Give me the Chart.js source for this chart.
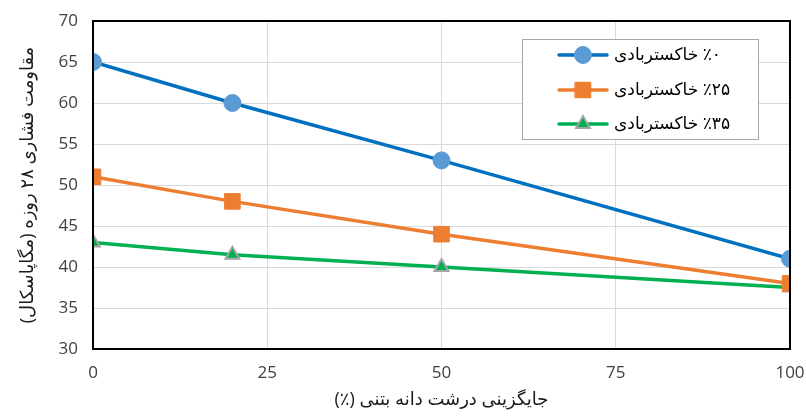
<!DOCTYPE html>
<html>
<head>
<meta charset="utf-8">
<script src="https://cdn.jsdelivr.net/npm/chart.js@4/dist/chart.umd.min.js"></script>
<style>
  html, body { margin: 0; padding: 0; background: #fff; }
  #wrap { width: 806px; height: 416px; }
</style>
</head>
<body>
<div id="wrap"><canvas id="grafico"></canvas></div>
<script>
// dados
const jaygozini = [0, 20, 50, 100];
const serie0 = [65, 60, 53, 41];
const serie25 = [51, 48, 44, 38];
const serie35 = [43, 41.5, 40, 37.5];
const rotulos = ['٪۰ خاکستربادی', '٪۲۵ خاکستربادی', '٪۳۵ خاکستربادی'];
const tituloY = 'مقاومت فشاری ۲۸ روزه (مگاپاسکال)';
const tituloX = 'جایگزینی درشت دانه بتنی (٪)';
const ticksX = [0, 25, 50, 75, 100];
const ticksY = [30, 35, 40, 45, 50, 55, 60, 65, 70];

const fonte = '"Open Sans", "DejaVu Sans", sans-serif';

function pontos(valores) {
    return jaygozini.map((x, i) => ({ x: x, y: valores[i] }));
}

// embute o texto em direção rtl (o título do eixo não tem opção de direção)
function rtl(t) {
    return '\u202B' + t + '\u202C';
}

// moldura preta em volta da área do gráfico
const moldura = {
    id: 'moldura',
    afterDatasetsDraw(chart) {
        const a = chart.chartArea;
        const ctx = chart.ctx;
        ctx.save();
        ctx.strokeStyle = '#000';
        ctx.lineWidth = 2;
        ctx.strokeRect(a.left, a.top, a.right - a.left, a.bottom - a.top);
        ctx.restore();
    }
};

// legenda desenhada à mão (linha + marcador + texto rtl)
const legenda = {
    id: 'legenda',
    afterDraw(chart) {
        const ctx = chart.ctx;
        ctx.save();
        ctx.fillStyle = '#fff';
        ctx.fillRect(522, 39, 236, 100);
        ctx.strokeStyle = '#a6a6a6';
        ctx.lineWidth = 1;
        ctx.strokeRect(522.5, 39.5, 236, 100);
        const linhasY = [55, 90, 124];
        chart.data.datasets.forEach((ds, i) => {
            const y = linhasY[i];
            ctx.strokeStyle = ds.borderColor;
            ctx.lineWidth = 3.5;
            ctx.lineCap = 'round';
            ctx.beginPath();
            ctx.moveTo(559, y);
            ctx.lineTo(607, y);
            ctx.stroke();
            ctx.fillStyle = ds.pointBackgroundColor;
            ctx.strokeStyle = ds.pointBorderColor;
            ctx.lineWidth = ds.pointBorderWidth;
            Chart.helpers.drawPoint(ctx, {
                pointStyle: ds.pointStyle,
                radius: ds.pointRadius,
                rotation: 0,
                borderWidth: ds.pointBorderWidth
            }, 583, y);
            ctx.fillStyle = '#000';
            ctx.font = '17px ' + fonte;
            ctx.direction = 'rtl';
            ctx.textAlign = 'left';
            ctx.textBaseline = 'middle';
            ctx.fillText(ds.label, 614, y);
        });
        ctx.restore();
    }
};

const ctx = document.getElementById('grafico').getContext('2d');
new Chart(ctx, {
    type: 'line',
    data: {
        datasets: [
            {
                label: rotulos[0],
                data: pontos(serie0),
                borderColor: '#0070C0',
                borderWidth: 3.5,
                pointStyle: 'circle',
                pointRadius: 8.5,
                pointBackgroundColor: '#5B9BD5',
                pointBorderColor: '#5B9BD5',
                pointBorderWidth: 1
            },
            {
                label: rotulos[1],
                data: pontos(serie25),
                borderColor: '#ED7D31',
                borderWidth: 3.5,
                pointStyle: 'rect',
                pointRadius: 11,
                pointBackgroundColor: '#ED7D31',
                pointBorderColor: '#ED7D31',
                pointBorderWidth: 1
            },
            {
                label: rotulos[2],
                data: pontos(serie35),
                borderColor: '#00B050',
                borderWidth: 3.5,
                pointStyle: 'triangle',
                pointRadius: 8,
                pointBackgroundColor: '#00B050',
                pointBorderColor: '#A5A5A5',
                pointBorderWidth: 2
            }
        ]
    },
    options: {
        responsive: true,
        maintainAspectRatio: false,
        animation: false,
        layout: { padding: { top: 21, right: 16, left: 0, bottom: 0 } },
        plugins: {
            legend: { display: false },
            tooltip: { enabled: false }
        },
        scales: {
            x: {
                type: 'linear',
                min: 0,
                max: 100,
                afterBuildTicks: (s) => { s.ticks = ticksX.map(v => ({ value: v })); },
                afterFit: (s) => { s.height = 67; s.paddingLeft = 0; s.paddingRight = 0; },
                grid: { color: '#d9d9d9', lineWidth: 1, drawTicks: false },
                border: { color: '#000', width: 2 },
                ticks: {
                    color: '#404040',
                    padding: 14,
                    font: { family: fonte, size: 17 }
                },
                title: {
                    display: true,
                    text: rtl(tituloX),
                    color: '#1a1a1a',
                    padding: { top: 4, bottom: 5 },
                    font: { family: fonte, size: 18 }
                }
            },
            y: {
                min: 30,
                max: 70,
                afterBuildTicks: (s) => { s.ticks = ticksY.map(v => ({ value: v })); },
                afterFit: (s) => { s.width = 93; s.paddingTop = 0; s.paddingBottom = 0; },
                grid: { color: '#d9d9d9', lineWidth: 1, drawTicks: false },
                border: { color: '#000', width: 2 },
                ticks: {
                    color: '#404040',
                    padding: 15,
                    font: { family: fonte, size: 17 }
                },
                title: {
                    display: true,
                    text: rtl(tituloY),
                    color: '#1a1a1a',
                    padding: { top: 17, bottom: 0 },
                    font: { family: fonte, size: 18 }
                }
            }
        }
    },
    plugins: [moldura, legenda]
});
</script>
</body>
</html>
